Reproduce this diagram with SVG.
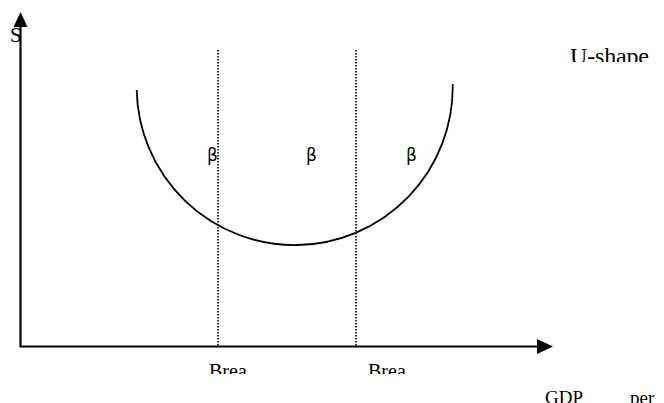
<svg xmlns="http://www.w3.org/2000/svg" width="664" height="403" viewBox="0 0 664 403">
<style>
.t{font-family:"Liberation Serif","Times New Roman",serif;fill:#000}
.b{font-family:"DejaVu Sans","Liberation Sans",sans-serif;font-size:17px;fill:#000}
.ax{stroke:#000;stroke-width:2.2;fill:none}
.dot{stroke:#000;stroke-width:1.6;stroke-dasharray:1.5,1.5;fill:none}
</style>
<defs>
<clipPath id="cu"><rect x="540" y="30" width="124" height="32"/></clipPath>
<clipPath id="cb"><rect x="190" y="355" width="250" height="19"/></clipPath>
</defs>
<rect width="664" height="403" fill="#fff"/>
<g id="labels">
<text class="t" x="10" y="42" font-size="21">S</text>
<text class="t" x="570" y="64" font-size="24" clip-path="url(#cu)" textLength="79" lengthAdjust="spacing">U-shape</text>
<text class="t" x="209" y="378" font-size="20" clip-path="url(#cb)">Brea</text>
<text class="t" x="368" y="378" font-size="20" clip-path="url(#cb)">Brea</text>
<text class="t" x="545" y="404" font-size="19">GDP</text>
<text class="t" x="630" y="404" font-size="19">per</text>
</g>
<g id="connectors">
<line class="dot" x1="218" y1="50" x2="218" y2="346"/>
<line class="dot" x1="356" y1="50" x2="356" y2="346"/>
<path id="curve" d="M136.7,90 A158,158 0 0 0 452.7,84" stroke="#000" stroke-width="1.8" fill="none"/>
<polyline class="ax" points="20.5,27 20.5,346.5 538,346.5"/>
<polygon points="20.5,12 13.5,27 27.5,27" fill="#000"/>
<polygon points="553,346.5 537,339 537,354" fill="#000"/>
</g>
<g id="betas">
<text class="b" x="207" y="161">β</text>
<text class="b" x="306" y="161">β</text>
<text class="b" x="406" y="161">β</text>
</g>
</svg>
